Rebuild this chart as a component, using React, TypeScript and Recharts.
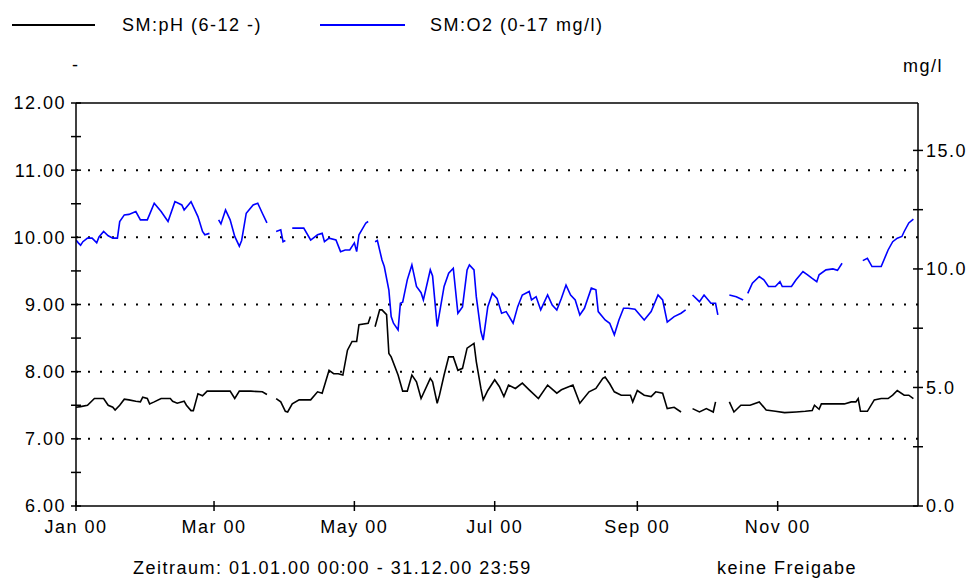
import React from "react";
import { Line, LineChart, ReferenceLine, XAxis, YAxis } from "recharts";

// day of year 2000 (0 = 1 Jan), null = no data
const phDays = [
  0, 2, 5, 8, 12, 14, 16, 17, 19, 21, 23, 26, 28, 29, 31, 32, 34, 37, 41, 42, 44, 47, 48, 50, 51, 53, 55, 57, 60,
  64, 67, 69, 71, 76, 81, 83, 85, 87, 89, 91, 92, 94, 97, 102, 105, 107, 110, 112, 114, 116, 118, 120, 122, 123,
  127, 128, 129, 130, 132, 133, 135, 136, 137, 140, 142, 144, 146, 148, 150, 154, 155, 157, 158, 160, 162, 164,
  166, 168, 170, 173, 174, 176, 177, 179, 182, 184, 186, 188, 191, 194, 197, 201, 205, 209, 211, 216, 219, 223,
  226, 229, 230, 232, 234, 237, 241, 242, 244, 247, 250, 252, 255, 257, 260, 263, 265, 268, 271, 274, 277, 278,
  280, 284, 286, 289, 293, 297, 300, 304, 308, 313, 317, 320, 321, 323, 324, 330, 334, 337, 339, 340, 341, 344,
  347, 350, 353, 355, 357, 360, 362, 364,
];
const phValues = [
  7.47, 7.48, 7.5, 7.6, 7.6, 7.5, 7.47, 7.43, 7.5, 7.59, 7.58, 7.56, 7.55, 7.62, 7.6, 7.52, 7.55, 7.6, 7.6, 7.56,
  7.53, 7.56, 7.5, 7.42, 7.42, 7.67, 7.64, 7.71, 7.71, 7.71, 7.71, 7.6, 7.71, 7.71, 7.7, 7.66, null, 7.6, 7.55,
  7.41, 7.4, 7.52, 7.58, 7.58, 7.7, 7.68, 8.02, 7.97, 7.97, 7.95, 8.32, 8.45, 8.45, 8.7, 8.72, 8.82, null, 8.67,
  8.92, 8.92, 8.85, 8.27, 8.22, 7.95, 7.71, 7.71, 7.95, 7.85, 7.6, 7.9, 7.85, 7.53, 7.65, 7.95, 8.22, 8.22, 8.02,
  8.05, 8.35, 8.42, 8.15, 7.75, 7.58, 7.72, 7.88, 7.78, 7.63, 7.8, 7.75, 7.83, 7.73, 7.6, 7.8, 7.68, 7.73, 7.8,
  7.53, 7.7, 7.75, 7.9, 7.92, 7.82, 7.7, 7.65, 7.65, 7.55, 7.72, 7.65, 7.63, 7.7, 7.68, 7.45, 7.47, 7.4, null,
  7.45, 7.4, 7.45, 7.4, 7.55, null, 7.55, 7.4, 7.5, 7.5, 7.55, 7.43, 7.41, 7.39, 7.4, 7.41, 7.42, 7.5, 7.44,
  7.52, 7.52, 7.52, 7.55, 7.55, 7.6, 7.41, 7.41, 7.58, 7.6, 7.6, 7.65, 7.72, 7.65, 7.65, 7.6,
];

const o2Days = [
  0, 1, 2, 3, 5, 7, 9, 10, 12, 14, 16, 18, 19, 21, 23, 26, 28, 31, 34, 37, 40, 43, 46, 47, 50, 53, 55, 56, 58, 60,
  62, 63, 65, 67, 69, 71, 72, 74, 77, 79, 81, 83, 85, 87, 89, 90, 91, 92, 94, 99, 102, 105, 107, 108, 110, 113,
  115, 117, 119, 121, 122, 123, 126, 127, 129, 130, 131, 133, 134, 136, 137, 138, 140, 141, 142, 144, 146, 148,
  150, 151, 154, 155, 157, 160, 162, 164, 166, 168, 170, 171, 173, 174, 176, 177, 179, 181, 183, 185, 187, 190,
  192, 194, 197, 198, 200, 202, 205, 207, 209, 211, 213, 215, 217, 219, 221, 224, 226, 227, 230, 232, 234, 236,
  238, 240, 243, 247, 250, 253, 255, 257, 260, 263, 265, 267, 268, 271, 273, 276, 278, 279, 281, 284, 287, 290,
  291, 292, 294, 297, 299, 301, 304, 306, 307, 311, 313, 316, 318, 320, 322, 323, 326, 329, 331, 333, 335, 342,
  344, 346, 350, 353, 355, 357, 359, 360, 362, 364,
];
const o2Values = [
  11.22, 11.1, 11.0, 11.15, 11.3, 11.3, 11.1, 11.35, 11.58, 11.4, 11.3, 11.3, 12.0, 12.28, 12.3, 12.42, 12.07,
  12.07, 12.77, 12.42, 12.0, 12.84, 12.7, 12.49, 12.84, 12.21, 11.58, 11.44, 11.5, null, 12.07, 11.9, 12.49,
  12.07, 11.37, 10.96, 11.2, 12.35, 12.7, 12.77, 12.35, 11.94, null, 11.58, 11.65, 11.15, 11.2, null, 11.72,
  11.72, 11.22, 11.44, 11.5, 11.15, 11.3, 11.22, 10.73, 10.8, 10.8, 11.1, 10.73, 11.44, 11.94, 12.0, null, 11.15,
  11.2, 10.38, 10.1, 9.11, 7.99, 7.71, 7.43, 8.55, 8.6, 9.54, 10.17, 9.26, 9.0, 8.69, 9.96, 9.7, 7.57, 9.26,
  9.82, 10.03, 8.13, 8.4, 9.96, 10.17, 9.96, 8.83, 7.36, 7.0, 8.41, 8.97, 8.76, 8.13, 8.2, 7.71, 8.41, 8.9, 9.05,
  8.69, 8.83, 8.27, 8.9, 8.48, 8.27, 8.76, 9.32, 8.9, 8.69, 8.06, 8.34, 9.19, 9.12, 8.2, 7.85, 7.71, 7.22, 7.85,
  8.34, 8.34, 8.3, 7.85, 8.2, 8.9, 8.69, 7.76, 7.99, 8.13, 8.27, null, 8.9, 8.62, 8.9, 8.55, 8.55, 8.06, null,
  8.9, 8.83, 8.69, null, 8.97, 9.4, 9.68, 9.54, 9.26, 9.26, 9.46, 9.26, 9.26, 9.54, 9.89, 9.75, 9.6, 9.46, 9.75,
  9.96, 10.0, 9.94, 10.24, null, 10.35, 10.45, 10.1, 10.1, 10.8, 11.15, 11.3, 11.37, 11.58, 11.94, 12.1,
];

const monthTicks = [0, 60, 121, 182, 244, 305];
const monthLabels = ["Jan 00", "Mar 00", "May 00", "Jul 00", "Sep 00", "Nov 00"];
const phTicks = [6, 6.5, 7, 7.5, 8, 8.5, 9, 9.5, 10, 10.5, 11, 11.5, 12];
const phGrid = [7, 8, 9, 10, 11];
const o2Ticks = [0, 2.5, 5, 7.5, 10, 12.5, 15];

const phData = phDays.map((day, i) => ({ day, ph: phValues[i] }));
const o2Data = o2Days.map((day, i) => ({ day, o2: o2Values[i] }));

const FONT = "'Liberation Sans', Arial, sans-serif";
const textStyle: React.CSSProperties = {
  position: "absolute",
  fontFamily: FONT,
  fontSize: 18,
  letterSpacing: 1.5,
  lineHeight: "18px",
  color: "#000",
  whiteSpace: "nowrap",
};

const LeftTick = (props: any) => {
  const { x, y, payload } = props;
  const v = payload.value;
  return (
    <g>
      <line x1={x - 5} x2={x + 5} y1={y} y2={y} stroke="#000" strokeWidth={1.5} />
      {Number.isInteger(v) && (
        <text x={x - 10} y={y} dy="0.36em" textAnchor="end" fontFamily={FONT} fontSize={18} letterSpacing={1.5} fill="#000">
          {v.toFixed(2)}
        </text>
      )}
    </g>
  );
};

const RightTick = (props: any) => {
  const { x, y, payload } = props;
  const v = payload.value;
  return (
    <g>
      <line x1={x - 5} x2={x + 5} y1={y} y2={y} stroke="#000" strokeWidth={1.5} />
      {v % 5 === 0 && (
        <text x={x + 8} y={y} dy="0.36em" textAnchor="start" fontFamily={FONT} fontSize={18} letterSpacing={1.5} fill="#000">
          {v.toFixed(1)}
        </text>
      )}
    </g>
  );
};

const BottomTick = (props: any) => {
  const { x, y, payload, index } = props;
  return (
    <g>
      <line x1={x} x2={x} y1={y - 5} y2={y + 5} stroke="#000" strokeWidth={1.5} />
      <text x={x} y={y + 27} textAnchor="middle" fontFamily={FONT} fontSize={18} letterSpacing={1.5} fill="#000">
        {monthLabels[index] ?? ""}
      </text>
    </g>
  );
};

export default function App() {
  return (
    <div style={{ position: "absolute", left: 0, top: 0, width: 970, height: 582, background: "#fff" }}>
      <svg width={970} height={60} style={{ position: "absolute", left: 0, top: 0 }}>
        <line x1={12} x2={95} y1={25} y2={25} stroke="#000" strokeWidth={1.8} />
        <line x1={320} x2={405} y1={25} y2={25} stroke="#0000ff" strokeWidth={1.8} />
      </svg>
      <div style={{ ...textStyle, left: 122, top: 16 }}>SM:pH (6-12 -)</div>
      <div style={{ ...textStyle, left: 430, top: 16 }}>SM:O2 (0-17 mg/l)</div>
      <div style={{ ...textStyle, left: 72, top: 56 }}>-</div>
      <div style={{ ...textStyle, left: 903, top: 57 }}>mg/l</div>
      <div style={{ ...textStyle, left: 133, top: 559 }}>Zeitraum: 01.01.00 00:00 - 31.12.00 23:59</div>
      <div style={{ ...textStyle, left: 717, top: 559 }}>keine Freigabe</div>

      <LineChart
        width={970}
        height={582}
        margin={{ top: 103, right: 0, bottom: 0, left: 0 }}
        style={{ position: "absolute", left: 0, top: 0 }}
      >
        <XAxis
          dataKey="day"
          type="number"
          domain={[0, 366]}
          ticks={monthTicks}
          height={76}
          tickSize={0}
          tickMargin={0}
          tickLine={false}
          axisLine={{ stroke: "#000", strokeWidth: 1.5 }}
          tick={<BottomTick />}
          interval={0}
          allowDataOverflow
        />
        <YAxis
          yAxisId="left"
          orientation="left"
          type="number"
          domain={[6, 12]}
          ticks={phTicks}
          width={76}
          tickSize={0}
          tickMargin={0}
          tickLine={false}
          axisLine={{ stroke: "#000", strokeWidth: 1.5 }}
          tick={<LeftTick />}
          interval={0}
          allowDataOverflow
        />
        <YAxis
          yAxisId="right"
          orientation="right"
          type="number"
          domain={[0, 17]}
          ticks={o2Ticks}
          width={52}
          tickSize={0}
          tickMargin={0}
          tickLine={false}
          axisLine={{ stroke: "#000", strokeWidth: 1.5 }}
          tick={<RightTick />}
          interval={0}
          allowDataOverflow
        />
        {phGrid.map((v) => (
          <ReferenceLine key={v} yAxisId="left" y={v} stroke="#000" strokeWidth={2} strokeDasharray="2 10" />
        ))}
        <ReferenceLine yAxisId="left" y={12} stroke="#000" strokeWidth={1.5} />
        <Line
          yAxisId="left"
          data={phData}
          dataKey="ph"
          type="linear"
          stroke="#000"
          strokeWidth={1.6}
          dot={false}
          activeDot={false}
          isAnimationActive={false}
        />
        <Line
          yAxisId="right"
          data={o2Data}
          dataKey="o2"
          type="linear"
          stroke="#0000ff"
          strokeWidth={1.6}
          dot={false}
          activeDot={false}
          isAnimationActive={false}
        />
      </LineChart>
    </div>
  );
}
